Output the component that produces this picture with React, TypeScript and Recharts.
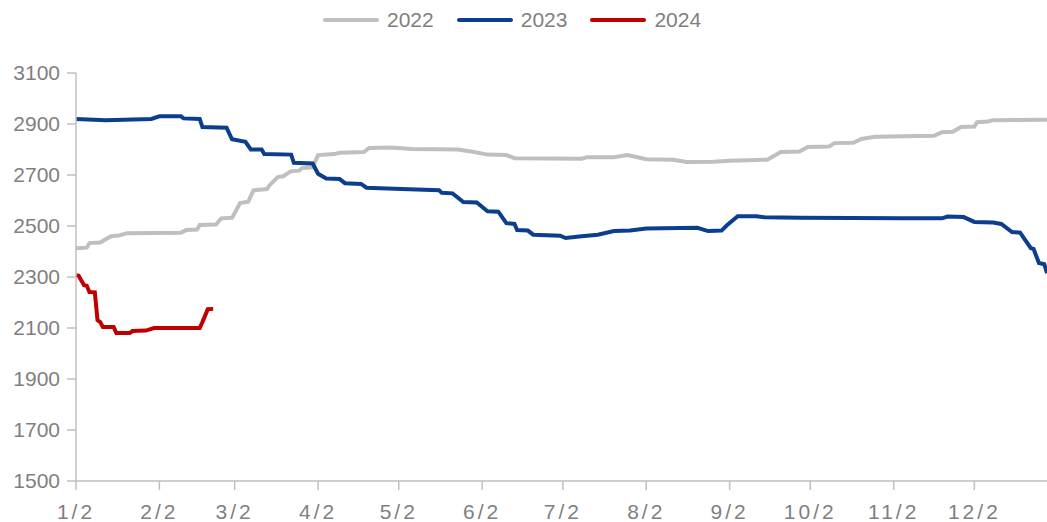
import { LineChart, Line, XAxis, YAxis } from "recharts";

// x = days counted from 1/2
const monthTicks = [0, 31, 59, 90, 120, 151, 181, 212, 243, 273, 304, 334];
const monthLabels = ["1/2", "2/2", "3/2", "4/2", "5/2", "6/2", "7/2", "8/2", "9/2", "10/2", "11/2", "12/2"];
const yTicks = [1500, 1700, 1900, 2100, 2300, 2500, 2700, 2900, 3100];

const days2022 = [0, 4, 5, 9, 13, 16, 19, 39, 41, 45, 46, 52, 54, 58, 61, 64, 66, 71, 72, 75, 77, 80, 83, 84, 88, 90, 96, 98, 107, 109, 117, 125, 142, 148, 153, 160, 163, 188, 190, 200, 205, 212, 222, 227, 237, 243, 257, 262, 269, 272, 280, 282, 289, 292, 297, 319, 322, 326, 329, 334, 335, 339, 341, 361];
const values2022 = [2413, 2415, 2433, 2435, 2460, 2463, 2472, 2474, 2484, 2486, 2504, 2506, 2530, 2532, 2590, 2595, 2640, 2645, 2660, 2692, 2695, 2715, 2717, 2727, 2730, 2778, 2782, 2787, 2790, 2806, 2808, 2802, 2800, 2790, 2780, 2778, 2766, 2764, 2770, 2770, 2778, 2762, 2760, 2751, 2752, 2756, 2760, 2790, 2792, 2810, 2812, 2825, 2826, 2841, 2850, 2854, 2868, 2870, 2888, 2890, 2907, 2910, 2915, 2917];

const days2023 = [0, 11, 28, 31, 39, 40, 46, 47, 56, 58, 63, 65, 69, 70, 80, 81, 88, 90, 93, 98, 100, 106, 108, 121, 135, 136, 140, 144, 149, 153, 157, 160, 163, 164, 168, 170, 180, 182, 188, 194, 200, 206, 212, 231, 235, 240, 242, 246, 253, 256, 269, 307, 322, 324, 330, 334, 341, 344, 348, 351, 355, 356, 358, 360, 361];
const values2023 = [2920, 2915, 2920, 2930, 2930, 2922, 2920, 2888, 2885, 2840, 2830, 2800, 2800, 2782, 2780, 2748, 2745, 2705, 2686, 2684, 2668, 2665, 2650, 2645, 2640, 2630, 2628, 2594, 2592, 2558, 2556, 2511, 2508, 2484, 2482, 2466, 2462, 2453, 2460, 2466, 2480, 2482, 2490, 2493, 2480, 2482, 2503, 2538, 2538, 2534, 2532, 2530, 2530, 2537, 2535, 2516, 2514, 2508, 2476, 2474, 2413, 2410, 2355, 2350, 2315];

const days2024 = [0, 1, 3, 4, 5, 7, 8, 9, 10, 14, 15, 20, 21, 26, 29, 46, 47, 49, 51];
const values2024 = [2307, 2305, 2268, 2266, 2241, 2240, 2131, 2123, 2104, 2104, 2080, 2080, 2088, 2090, 2100, 2100, 2123, 2174, 2175];

const toRows = (days: number[], values: number[]) => days.map((d, i) => ({ d, v: values[i] }));

const series = [
  { name: "2022", color: "#bfbfbf", data: toRows(days2022, values2022) },
  { name: "2023", color: "#0b3f8e", data: toRows(days2023, values2023) },
  { name: "2024", color: "#c00000", data: toRows(days2024, values2024) },
];

const axisColor = "#bfbfbf";
const textColor = "#7f7f7f";
const font = "'Liberation Sans', Arial, sans-serif";

function TopLegend() {
  return (
    <div style={{ position: "absolute", left: 323, top: 8, display: "flex", alignItems: "center", fontFamily: font, fontSize: 21, color: textColor }}>
      {series.map((s) => (
        <div key={s.name} style={{ display: "flex", alignItems: "center", marginRight: 23 }}>
          <div style={{ width: 56, height: 4, borderRadius: 2, background: s.color, marginRight: 8 }} />
          <span>{s.name}</span>
        </div>
      ))}
    </div>
  );
}

export default function App() {
  return (
    <div style={{ position: "absolute", left: 0, top: 0, width: 1047, height: 522, background: "#fff" }}>
      <TopLegend />
      <LineChart width={1047} height={522} margin={{ top: 73, right: 0, left: 0, bottom: 11 }}>
        <XAxis
          type="number"
          dataKey="d"
          domain={[0, 361]}
          ticks={monthTicks}
          tickFormatter={(d: number) => monthLabels[monthTicks.indexOf(d)]}
          allowDataOverflow
          height={30}
          stroke={axisColor}
          strokeWidth={1.5}
          tickSize={9}
          tickMargin={14}
          tick={{ fill: textColor, fontSize: 21, fontFamily: font, letterSpacing: 3 }}
        />
        <YAxis
          type="number"
          domain={[1500, 3100]}
          ticks={yTicks}
          width={76}
          stroke={axisColor}
          strokeWidth={1.5}
          tickSize={9}
          tickMargin={7}
          tick={{ fill: textColor, fontSize: 21, fontFamily: font }}
        />
        {series.map((s) => (
          <Line
            key={s.name}
            data={s.data}
            dataKey="v"
            name={s.name}
            type="linear"
            stroke={s.color}
            strokeWidth={4}
            dot={false}
            isAnimationActive={false}
          />
        ))}
      </LineChart>
    </div>
  );
}
